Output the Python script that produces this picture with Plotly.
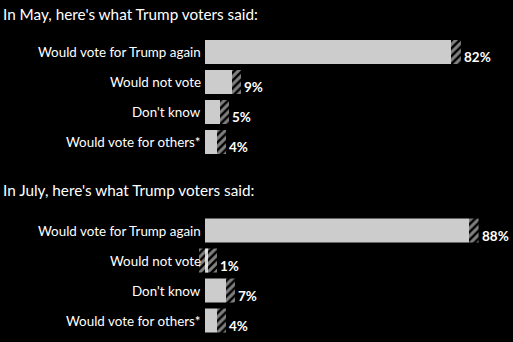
import plotly.graph_objects as go

# Survey answers of Trump voters, two waves
categories = ["Would vote for Trump again", "Would not vote", "Don't know", "Would vote for others*"]
may_values = [82, 9, 5, 4]
july_values = [88, 1, 7, 4]
# Hatched uncertainty band for each answer (start, end, in %)
may_band_lo = [82, 9, 5, 4]
may_band_hi = [85.3, 12, 8, 7]
july_band_lo = [88, -2, 7, 4]
july_band_hi = [91.2, 4, 10, 7]
titles = ["In May, here's what Trump voters said:", "In July, here's what Trump voters said:"]

W, H = 513, 342
FONT = "Lato"
BAR = "#cccccc"

fig = go.Figure()
panels = [
    ("x", "y", may_values, may_band_lo, may_band_hi),
    ("x2", "y2", july_values, july_band_lo, july_band_hi),
]
for xa, ya, vals, lo, hi in panels:
    fig.add_trace(go.Bar(
        y=categories, x=vals, base=0, orientation="h",
        marker=dict(color=BAR, line=dict(width=0)),
        width=0.8, xaxis=xa, yaxis=ya, hoverinfo="skip",
    ))
    fig.add_trace(go.Bar(
        y=categories, x=[h - l for l, h in zip(lo, hi)], base=lo, orientation="h",
        marker=dict(color="rgba(0,0,0,0)", line=dict(width=0),
                    pattern=dict(shape="/", fgcolor="#ffffff", bgcolor="rgba(0,0,0,0)",
                                 size=5.5, solidity=0.55)),
        width=0.8, xaxis=xa, yaxis=ya, hoverinfo="skip",
    ))
    for c, v, h in zip(categories, vals, hi):
        fig.add_annotation(
            x=h, y=c, xref=xa, yref=ya, text=f"{v}%", showarrow=False,
            xanchor="left", yanchor="middle", xshift=1, yshift=-5,
            font=dict(family=FONT, size=13.5, color="white", weight="bold"),
        )
        fig.add_annotation(
            x=0, y=c, xref=xa, yref=ya, text=c, showarrow=False,
            xanchor="right", yanchor="middle", xshift=-2,
            font=dict(family=FONT, size=13.4, color="white"),
        )

zero_px = 205
px_per_unit = 3.0
xrange = [-zero_px / px_per_unit, (W - zero_px) / px_per_unit]

for i, (t, yc) in enumerate(zip(titles, [14, 190])):
    fig.add_annotation(
        x=1 / W, y=1 - yc / H, xref="paper", yref="paper", text=t, showarrow=False,
        xanchor="left", yanchor="middle",
        font=dict(family=FONT, size=15.3, color="white"),
    )

axis_common = dict(showgrid=False, zeroline=False, showticklabels=False, showline=False)
fig.update_layout(
    width=W, height=H, margin=dict(l=0, r=0, t=0, b=0),
    paper_bgcolor="black", plot_bgcolor="black",
    barmode="overlay", showlegend=False,
    xaxis=dict(domain=[0, 1], range=xrange, anchor="y", **axis_common),
    xaxis2=dict(domain=[0, 1], range=xrange, anchor="y2", **axis_common),
    yaxis=dict(domain=[1 - 157 / H, 1 - 37 / H], range=[3.5, -0.5], anchor="x",
               type="category", categoryorder="array", categoryarray=categories, **axis_common),
    yaxis2=dict(domain=[1 - 335.5 / H, 1 - 215.5 / H], range=[3.5, -0.5], anchor="x2",
                type="category", categoryorder="array", categoryarray=categories, **axis_common),
)

fig.write_html("out.html")
